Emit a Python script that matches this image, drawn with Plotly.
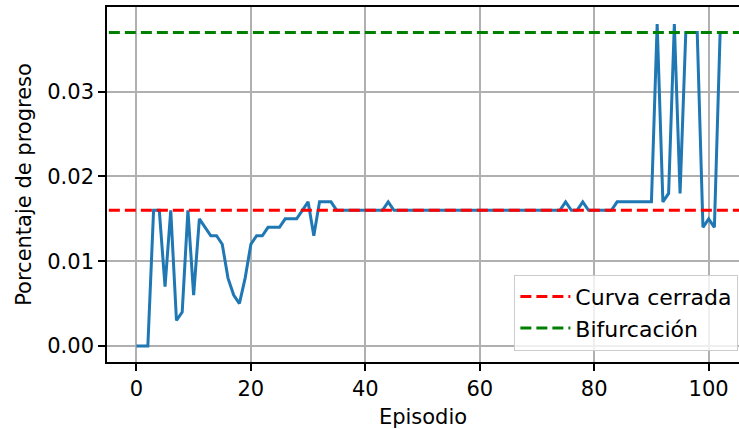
import plotly.graph_objects as go

episodes = list(range(103))
progress = [
    0.0, 0.0, 0.0, 0.016, 0.016, 0.007, 0.016, 0.003, 0.004, 0.016,
    0.006, 0.015, 0.014, 0.013, 0.013, 0.012, 0.008, 0.006, 0.005, 0.008,
    0.012, 0.013, 0.013, 0.014, 0.014, 0.014, 0.015, 0.015, 0.015, 0.016,
    0.017, 0.013, 0.017, 0.017, 0.017, 0.016, 0.016, 0.016, 0.016, 0.016,
    0.016, 0.016, 0.016, 0.016, 0.017, 0.016, 0.016, 0.016, 0.016, 0.016,
    0.016, 0.016, 0.016, 0.016, 0.016, 0.016, 0.016, 0.016, 0.016, 0.016,
    0.016, 0.016, 0.016, 0.016, 0.016, 0.016, 0.016, 0.016, 0.016, 0.016,
    0.016, 0.016, 0.016, 0.016, 0.016, 0.017, 0.016, 0.016, 0.017, 0.016,
    0.016, 0.016, 0.016, 0.016, 0.017, 0.017, 0.017, 0.017, 0.017, 0.017,
    0.017, 0.038, 0.017, 0.018, 0.038, 0.018, 0.037, 0.037, 0.037, 0.014,
    0.015, 0.014, 0.037,
]
ref_names = ["Curva cerrada", "Bifurcación"]
ref_values = [0.016, 0.037]
ref_colors = ["red", "green"]

x_tick_vals = [0, 20, 40, 60, 80, 100]
y_tick_vals = [0.00, 0.01, 0.02, 0.03]

x_range = [-5.14, 105.3]
y_range = [-0.0019, 0.0400]

FONT = "DejaVu Sans"
FS = 21
fig = go.Figure()

fig.add_trace(go.Scatter(
    x=episodes, y=progress, mode="lines",
    line=dict(color="#1f77b4", width=3),
    showlegend=False, hoverinfo="skip",
))

span = [x_range[0] - 50, x_range[1] + 50]
for name, val, col in zip(ref_names, ref_values, ref_colors):
    fig.add_trace(go.Scatter(
        x=span, y=[val, val], mode="lines", name=name,
        line=dict(color=col, width=3, dash="11px,5px"),
    ))

axis_common = dict(
    showgrid=True, gridcolor="#b0b0b0", gridwidth=1.6,
    zeroline=False, showline=True, linecolor="black", linewidth=1.6,
    ticks="outside", ticklen=7, tickwidth=1.6, tickcolor="black",
    tickfont=dict(family=FONT, size=FS, color="black"),
)

fig.update_xaxes(
    **axis_common, range=x_range, tickvals=x_tick_vals, mirror=True,
    title=dict(text="Episodio", font=dict(family=FONT, size=FS, color="black"), standoff=13),
)
fig.update_yaxes(
    **axis_common, range=y_range, tickvals=y_tick_vals, tickformat=".2f",
    title=dict(text="Porcentaje de progreso", font=dict(family=FONT, size=FS, color="black"), standoff=10),
)

fig.update_layout(
    width=739, height=429,
    margin=dict(l=107, r=0, t=7, b=67, autoexpand=False),
    plot_bgcolor="white", paper_bgcolor="white",
    font=dict(family=FONT, size=FS, color="black"),
    legend=dict(
        x=0.999, y=0.032, xanchor="right", yanchor="bottom",
        bgcolor="rgba(255,255,255,0.8)", bordercolor="#cccccc", borderwidth=1,
        font=dict(family=FONT, size=22, color="black"),
        itemwidth=50,
    ),
)

fig.write_html(
    "out.html",
    config={"displayModeBar": False},
    post_script="document.body.style.margin='0';document.body.style.overflow='hidden';",
)
